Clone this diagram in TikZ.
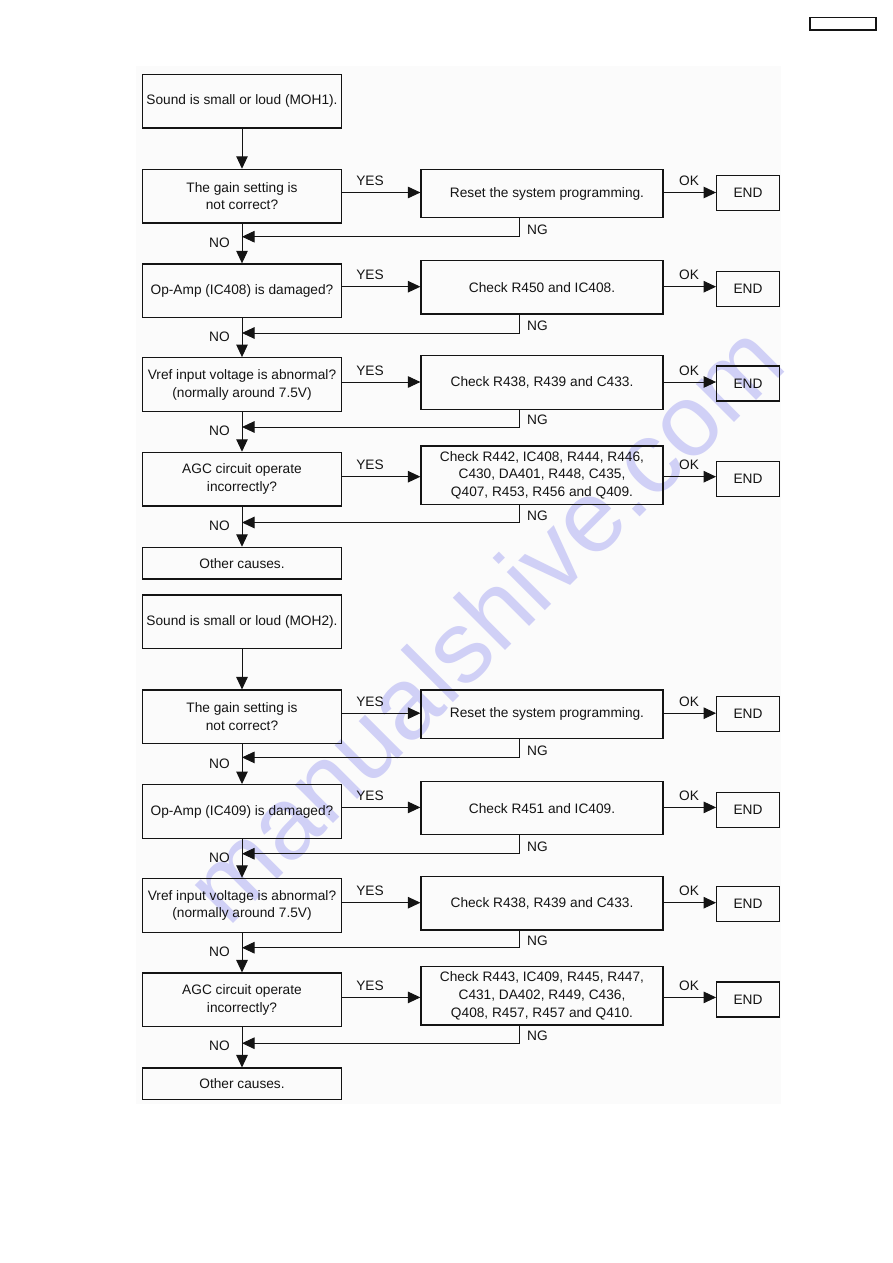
\documentclass[tikz,border=0pt]{standalone}
\usepackage{fontspec}
\setmainfont{Liberation Sans}
\usetikzlibrary{arrows.meta}
\definecolor{wm}{RGB}{208,208,246}
\definecolor{ink}{RGB}{20,20,20}
\tikzset{
  x=1pt, y=-1pt,
  txt/.style={font=\fontsize{13.7}{17.7}\selectfont, text=ink},
  box/.style={txt, draw=ink, line width=1.2pt, inner sep=0pt, align=center},
  lbox/.style={box, minimum width=198.6pt},
  rbox/.style={box, minimum width=242pt},
  endbox/.style={box, minimum width=62.6pt, minimum height=35pt},
  ln/.style={draw=ink, line width=1pt},
  arr/.style={ln, -{Triangle[length=12.5pt,width=11.5pt]}},
  lbl/.style={txt, inner sep=0pt},
}
\newcommand\flowchart[6]{%
\begin{scope}[yshift=-#1pt]
  \node[lbox, minimum height=53.7pt] (#2s)  at (242,101.2) {Sound is small or loud (#3).};
  \node[lbox, minimum height=53.7pt] (#2q1) at (242,196.2) {The gain setting is\\not correct?};
  \node[lbox, minimum height=53.7pt] (#2q2) at (242,290.8) {Op-Amp (#4) is damaged?};
  \node[lbox, minimum height=54pt]   (#2q3) at (242,384.7) {Vref input voltage is abnormal?\\(normally around 7.5V)};
  \node[lbox, minimum height=53.7pt] (#2q4) at (242,479.2) {AGC circuit operate\\incorrectly?};
  \node[lbox, minimum height=31.7pt] (#2q5) at (242,563.2) {Other causes.};
  \node[rbox, minimum height=48.4pt] (#2a1) at (542,193.5) {\hspace*{10pt}Reset the system programming.};
  \node[rbox, minimum height=53.3pt] (#2a2) at (542,287.4) {#5};
  \node[rbox, minimum height=53.6pt] (#2a3) at (542,382.5) {Check R438, R439 and C433.};
  \node[rbox, minimum height=58.3pt] (#2a4) at (542,475.2) {#6};
  \node[endbox] (#2e1) at (748,192.9) {END};
  \node[endbox] (#2e2) at (748,288.9) {END};
  \node[endbox] (#2e3) at (748,383.5) {END};
  \node[endbox] (#2e4) at (748,478.7) {END};
  \draw[arr] (#2s) -- (#2q1);
  \foreach \i/\j/\ya/\yn/\nd in {1/2/192.5/236.7/6.5, 2/3/286.7/333/4, 3/4/382/427/4, 4/5/476.7/522.5/3}{
    \draw[arr] (#2q\i) -- (#2q\j);
    \coordinate (#2ya\i) at (0,\ya);
    \coordinate (#2yn\i) at (519,\yn);
    \draw[arr] (#2q\i.east |- #2ya\i) -- (#2a\i.west |- #2ya\i);
    \draw[arr] (#2a\i.east |- #2ya\i) -- (#2e\i.west |- #2ya\i);
    \draw[arr] (#2a\i.south -| #2yn\i) |- (#2q\i.south |- #2yn\i);
    \node[lbl] (#2yes\i) at (370,\ya-11.5) {YES};
    \node[lbl] (#2ok\i)  at (689,\ya-11.5) {OK};
    \node[lbl] (#2ng\i)  at (537.5,\yn-7) {NG};
    \node[lbl] (#2no\i)  at (219.5,\yn+\nd) {NO};
  }
\end{scope}}
\begin{document}
\begin{tikzpicture}
  \useasboundingbox (0,0) rectangle (893,1263);
  \fill[white] (0,0) rectangle (893,1263);
  \fill[black!1.5] (136,66) rectangle (781,1104);
  \node[rotate=45, text=wm, inner sep=0pt, font=\fontsize{102}{102}\selectfont] (wmark) at (483,622) {manualshive.com};
  \node[draw=ink, line width=1.2pt, minimum width=66pt, minimum height=12.7pt, inner sep=0pt] (pgbox) at (843,23.6) {};
  \flowchart{0}{A}{MOH1}{IC408}{Check R450 and IC408.}{Check R442, IC408, R444, R446,\\C430, DA401, R448, C435,\\Q407, R453, R456 and Q409.}
  \flowchart{520.7}{B}{MOH2}{IC409}{Check R451 and IC409.}{Check R443, IC409, R445, R447,\\C431, DA402, R449, C436,\\Q408, R457, R457 and Q410.}
\end{tikzpicture}
\end{document}
